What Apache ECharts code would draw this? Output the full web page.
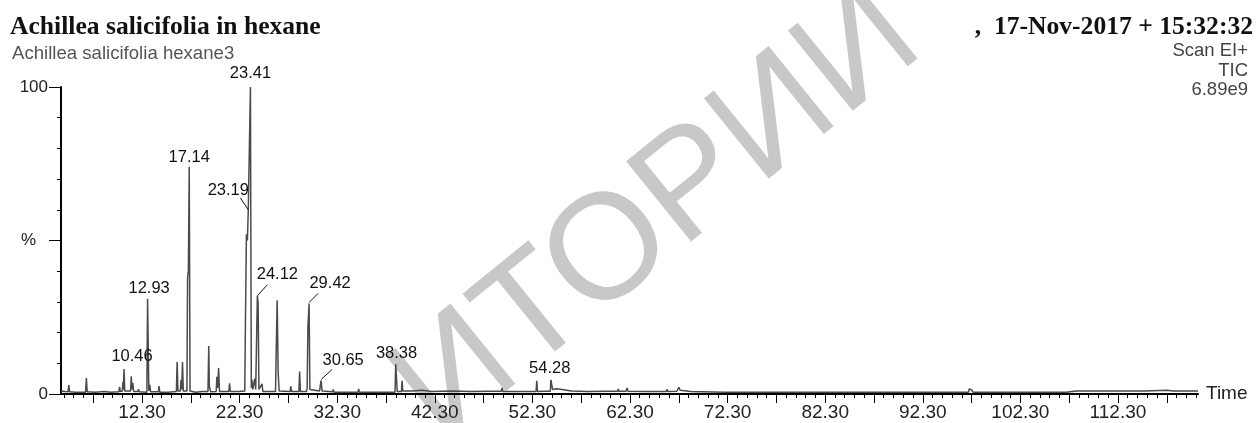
<!DOCTYPE html>
<html>
<head>
<meta charset="utf-8">
<script src="https://cdn.jsdelivr.net/npm/echarts@6/dist/echarts.min.js"></script>
<style>
html, body { margin: 0; padding: 0; background: #fff; }
#chart { width: 1256px; height: 423px; }
</style>
</head>
<body>
<div id="chart"></div>
<script>
// retention time (min) and TIC (%)
let rtEarly = [4.0, 4.4, 4.72, 4.8, 4.88, 5.5, 6.52, 6.6, 6.68, 7.5, 8.4, 9.1, 9.93, 10.0, 10.07,
    10.28, 10.35, 10.4, 10.46, 10.53, 11.13, 11.2, 11.28, 11.36, 11.44, 11.88, 11.95, 12.02,
    12.8, 12.87, 12.93, 13.0, 13.1, 13.18, 13.98, 14.05, 14.12, 15.0, 15.82, 15.9, 15.98,
    16.22, 16.3, 16.37, 16.45, 16.53, 16.9, 16.97, 17.05, 17.14, 17.22, 17.8, 18.5,
    19.06, 19.14, 19.2, 19.27, 19.34, 19.9, 19.97, 20.05, 20.15, 20.24, 21.2, 21.27, 21.35, 22.2];
let ticEarly = [1.0, 0.8, 0.7, 2.9, 0.7, 0.6, 0.6, 5.2, 0.7, 0.6, 0.8, 0.6, 0.7, 2.3, 0.8,
    1.0, 4.0, 1.5, 8.1, 1.0, 1.0, 5.8, 1.5, 3.6, 0.8, 0.8, 1.6, 0.7,
    0.6, 31, 31, 1.0, 3.0, 0.7, 0.7, 2.6, 0.6, 0.6, 0.8, 10.4, 1.0,
    1.0, 4.6, 1.5, 10.4, 1.0, 1.0, 38, 40, 74, 1.0, 0.6, 0.8,
    0.8, 15.6, 2.5, 3.0, 0.7, 0.8, 5.6, 2.0, 8.5, 0.8, 0.8, 3.5, 0.8, 0.8];

let rtMain = [22.83, 22.9, 23.0, 23.1, 23.19, 23.3, 23.41, 23.5, 23.57, 23.65, 23.85, 23.95,
    24.05, 24.12, 24.2, 24.28, 24.6, 24.68, 25.3, 25.98, 26.05, 26.15, 26.25, 26.35,
    27.48, 27.55, 27.63, 28.38, 28.45, 28.53, 29.15, 29.22, 29.3, 29.42, 29.5,
    30.5, 30.58, 30.65, 30.75, 31.83, 31.9, 31.97, 33.0, 34.43, 34.5, 34.57, 36.5,
    38.22, 38.3, 38.38, 38.45, 38.88, 38.95, 39.02];
let ticMain = [1.0, 24, 52, 50, 60, 80, 100, 2.0, 4.6, 1.5, 5.0, 1.5,
    1.5, 32, 29.5, 1.5, 3.3, 0.8, 0.8, 0.8, 13.8, 30.5, 7, 1.0,
    0.8, 2.5, 0.8, 0.8, 7.3, 0.8, 0.8, 2.0, 22, 29.5, 1.5,
    1.0, 3.0, 4.4, 1.0, 0.7, 1.5, 0.6, 0.6, 0.6, 1.7, 0.6, 0.6,
    0.6, 9.7, 9.7, 0.8, 0.8, 4.3, 1.0];

let rtLate = [40.0, 41.0, 42.0, 44.0, 46.0, 48.0, 49.12, 49.2, 49.28, 51.0, 52.68, 52.75, 52.82,
    53.5, 54.13, 54.2, 54.28, 54.36, 54.8, 55.5, 56.3, 58.0, 60.0, 61.03, 61.1, 61.17,
    61.9, 62.0, 62.1, 64.0, 66.03, 66.1, 66.17, 67.1, 67.3, 67.45, 68.5, 72.0, 78.0,
    86.93, 87.0, 87.07, 88.13, 88.2, 88.27, 96.98, 97.05, 97.15, 97.3, 97.45,
    99.13, 99.2, 99.27, 105.03, 105.1, 105.17, 107.0, 108.0, 109.83, 109.9, 109.97,
    111.03, 111.1, 111.17, 111.73, 111.8, 111.87, 113.63, 113.7, 113.77, 115.0, 117.3, 118.0, 120.5];
let ticLate = [1.0, 1.2, 0.8, 1.0, 0.8, 0.9, 0.9, 2.0, 0.8, 0.8, 0.8, 4.3, 0.8,
    0.9, 0.9, 4.6, 4.6, 1.5, 1.7, 1.4, 1.0, 0.8, 0.9, 0.9, 1.6, 0.9,
    0.9, 2.0, 0.9, 0.8, 0.8, 1.6, 0.8, 0.9, 2.2, 1.2, 0.8, 0.6, 0.6,
    0.6, 1.0, 0.6, 0.6, 1.0, 0.6, 0.6, 1.6, 1.0, 1.4, 0.6,
    0.6, 1.0, 0.6, 0.6, 1.0, 0.6, 0.6, 1.0, 1.0, 1.6, 1.0,
    1.0, 1.6, 1.0, 1.0, 1.6, 1.0, 1.0, 1.3, 1.0, 1.0, 1.2, 1.0, 1.0];

// labelled peaks
let peakRT = ['10.46', '12.93', '17.14', '23.19', '23.41', '24.12', '29.42', '30.65', '38.38', '54.28'];
let peakTop = [8.1, 31, 74, 60, 100, 32, 29.5, 4.4, 9.7, 4.6];

// x axis labels every 10 min, long ticks every 5, short ticks every minute
let timeLabels = [12.3, 22.3, 32.3, 42.3, 52.3, 62.3, 72.3, 82.3, 92.3, 102.3, 112.3];

let fiveTicks = [];
for (let t = 7.3; t < 120.5; t += 5) fiveTicks.push(+t.toFixed(1));
let minuteTicks = [];
for (let t = 4.3; t < 120.5; t += 1) minuteTicks.push(+t.toFixed(1));

let rt = rtEarly.concat(rtMain, rtLate);
let tic = ticEarly.concat(ticMain, ticLate);

// label offsets in px from the peak top: text centre, optional leader line
let labelPos = [
    { dx: 8, dy: -13 },
    { dx: 1, dy: -10.5 },
    { dx: 0, dy: -9.5 },
    { dx: -20, dy: -19, lead: [-8, -12, 0, 0] },
    { dx: 0, dy: -14 },
    { dx: 20, dy: -21, lead: [0, 0, 10, -11] },
    { dx: 21, dy: -19.5, lead: [0, -1, 9, -10] },
    { dx: 22, dy: -20.5, lead: [0, -1, 11, -11] },
    { dx: 0, dy: -11 },
    { dx: -2, dy: -11 }
];

let sans = 'Liberation Sans, Arial, sans-serif';
let serif = 'Liberation Serif, Times New Roman, serif';

let chart = echarts.init(document.getElementById('chart'));

let option = {
    animation: false,
    backgroundColor: '#fff',
    grid: { left: 61, right: 58, top: 87, bottom: 29 },
    xAxis: [{
        type: 'value',
        min: 4.0,
        max: 120.5,
        splitLine: { show: false },
        axisLine: { show: true, onZero: false, lineStyle: { color: '#000', width: 2 } },
        axisTick: { show: true, customValues: fiveTicks, length: 9, lineStyle: { color: '#000', width: 1 } },
        axisLabel: {
            customValues: timeLabels,
            formatter: function(v) { return v.toFixed(2); },
            fontSize: 19, color: '#222', fontFamily: sans, margin: 9
        },
        name: 'Time',
        nameLocation: 'end',
        nameGap: 8,
        nameTextStyle: { fontSize: 19, color: '#222', fontFamily: sans, verticalAlign: 'middle' }
    }, {
        type: 'value',
        min: 4.0,
        max: 120.5,
        position: 'bottom',
        splitLine: { show: false },
        axisLine: { show: false },
        axisTick: { show: true, customValues: minuteTicks, length: 4, lineStyle: { color: '#000', width: 1 } },
        axisLabel: { show: false }
    }],
    yAxis: {
        type: 'value',
        min: 0,
        max: 100,
        interval: 50,
        splitLine: { show: false },
        axisLine: { show: true, lineStyle: { color: '#000', width: 2 } },
        axisTick: { show: true, length: 12, lineStyle: { color: '#000', width: 1 } },
        minorTick: { show: true, splitNumber: 5, length: 4, lineStyle: { color: '#000', width: 1 } },
        axisLabel: {
            margin: 13,
            fontSize: 17, color: '#222', fontFamily: sans,
            formatter: function(v) {
                if (v === 50) return '{p|%}';
                return String(v);
            },
            rich: { p: { fontSize: 17, fontFamily: sans, color: '#222', padding: [0, 12, 0, 0] } }
        }
    },
    graphic: [
        {
            type: 'text', x: 658, y: 215, rotation: 0.68, z: -10,
            style: { text: 'ИТОРИИ', font: '150px ' + sans, fill: '#c8c8c8', align: 'center', verticalAlign: 'middle' }
        },
        { type: 'text', left: 10, top: 14, style: { text: 'Achillea salicifolia in hexane', font: 'bold 25.6px ' + serif, fill: '#111' } },
        { type: 'text', left: 12, top: 44, style: { text: 'Achillea salicifolia hexane3', font: '18.6px ' + sans, fill: '#555' } },
        { type: 'text', right: 3, top: 14, style: { text: ',  17-Nov-2017 + 15:32:32', font: 'bold 25.6px ' + serif, fill: '#111' } },
        { type: 'text', right: 8, top: 41, style: { text: 'Scan EI+', font: '18.5px ' + sans, fill: '#444', align: 'right' } },
        { type: 'text', right: 8, top: 61, style: { text: 'TIC', font: '18.5px ' + sans, fill: '#444', align: 'right' } },
        { type: 'text', right: 8, top: 80, style: { text: '6.89e9', font: '18.5px ' + sans, fill: '#444', align: 'right' } }
    ],
    series: [{
        type: 'line',
        data: rt.map(function(t, i) { return [t, tic[i]]; }),
        showSymbol: false,
        sampling: 'none',
        lineStyle: { color: '#4a4a4a', width: 1.5 },
        z: 3
    }, {
        type: 'custom',
        data: peakRT.map(function(t, i) { return [parseFloat(t), peakTop[i]]; }),
        z: 5,
        renderItem: function(params, api) {
            let p = api.coord([api.value(0), api.value(1)]);
            let s = labelPos[params.dataIndex];
            let kids = [{
                type: 'text',
                style: {
                    text: peakRT[params.dataIndex],
                    x: p[0] + s.dx, y: p[1] + s.dy,
                    align: 'center', verticalAlign: 'middle',
                    font: '16.5px ' + sans, fill: '#111'
                }
            }];
            if (s.lead) {
                kids.push({
                    type: 'line',
                    shape: { x1: p[0] + s.lead[0], y1: p[1] + s.lead[1], x2: p[0] + s.lead[2], y2: p[1] + s.lead[3] },
                    style: { stroke: '#111', lineWidth: 1 }
                });
            }
            return { type: 'group', children: kids };
        }
    }]
};

chart.setOption(option);
</script>
</body>
</html>
